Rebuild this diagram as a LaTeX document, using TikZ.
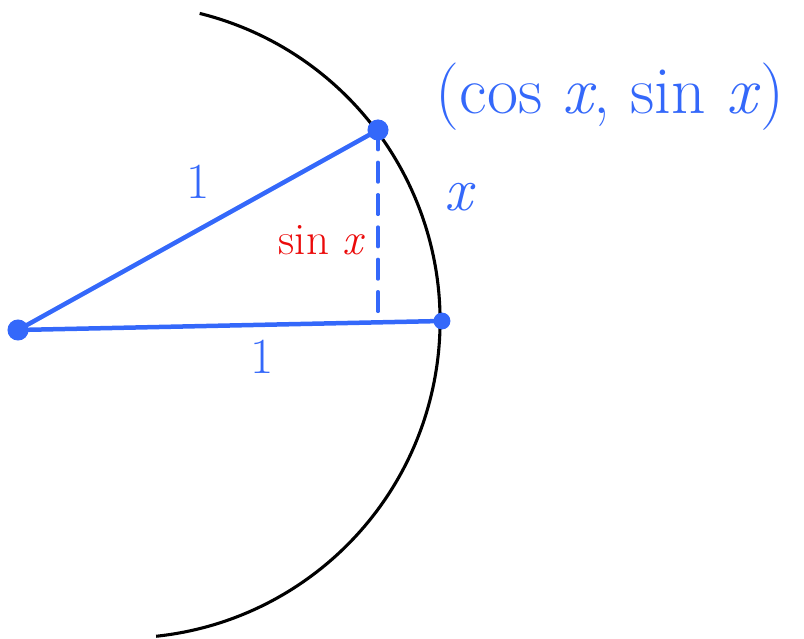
\documentclass[tikz,border=0pt]{standalone}
\usepackage{amsmath}
\usepackage{xcolor}
\usepackage{tikz}

\definecolor{penblue}{RGB}{52,104,250}
\definecolor{penred}{RGB}{235,10,10}

\tikzset{
  pen/.style={penblue, line width=3.2pt, line cap=round, line join=round},
  dotpt/.style={circle, fill=penblue, inner sep=0pt, minimum size=15pt},
  hand/.style={penblue, font=\fontsize{44}{48}\selectfont},
}

\begin{document}
\begin{tikzpicture}[x=0.025cm,y=0.025cm]
    \useasboundingbox (0,0) rectangle (804,639);

    % unit circle arc
    \draw[black, line width=2.2pt] (123,318) ++(76:317) arc[start angle=76, end angle=-84, radius=317];

    % points
    \node[dotpt] (O) at (18,309) {};
    \node[dotpt] (P) at (378,509) {};
    \node[dotpt, minimum size=12pt] (A) at (442,318) {};
    \coordinate (F) at (378,318);

    % sides
    \draw[pen] (O.center) -- (P.center);
    \draw[pen] (O.center) -- (A.center);
    \draw[pen, line width=2.4pt, dash pattern=on 14pt off 9pt] (P.center) -- (F);

    % labels
    \node[hand, font=\fontsize{48}{52}\selectfont] (coords) at (610,542) {(cos \textit{x}, sin \textit{x})};
    \node[hand, font=\fontsize{36}{40}\selectfont] (hyp) at (198,457) {1};
    \node[hand, font=\fontsize{36}{40}\selectfont] (base) at (262,282) {1};
    \node[hand] (ang) at (460,442) {\textit{x}};
    \node[penred, font=\fontsize{32}{36}\selectfont] (opp) at (322,399) {sin \textit{x}};
\end{tikzpicture}
\end{document}
